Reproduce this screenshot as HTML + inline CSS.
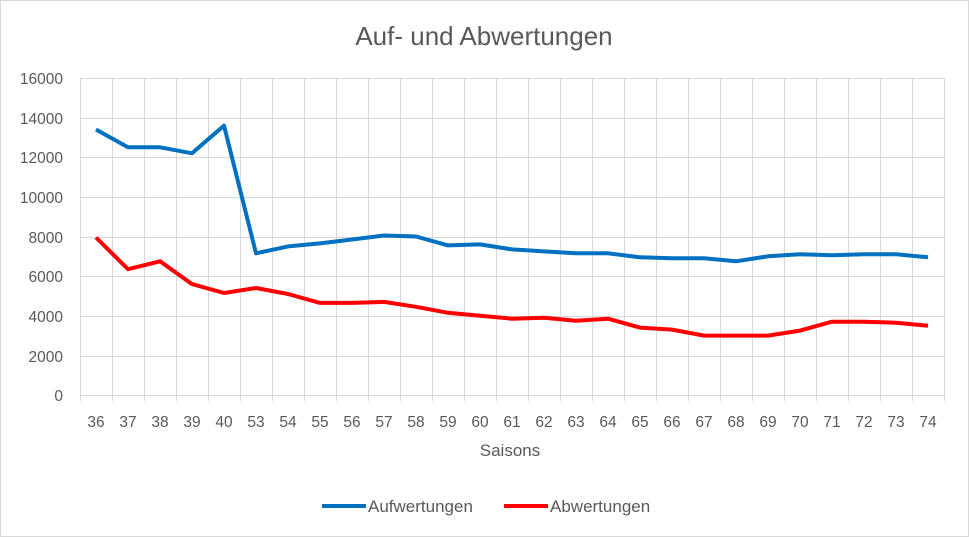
<!DOCTYPE html>
<html><head><meta charset="utf-8"><style>
body{margin:0;background:#fff;}
svg{display:block;font-family:"Liberation Sans",sans-serif;}
</style></head><body>
<svg width="969" height="537" viewBox="0 0 969 537" xmlns="http://www.w3.org/2000/svg">
<rect x="0.5" y="0.5" width="968" height="536" fill="#fff" stroke="#d9d9d9"/>
<text x="484" y="45" font-size="26" fill="#595959" text-anchor="middle">Auf- und Abwertungen</text>
<g stroke="#d9d9d9" stroke-width="1" id="grid">
<line x1="80" y1="78.5" x2="944" y2="78.5"/>
<line x1="80" y1="118.5" x2="944" y2="118.5"/>
<line x1="80" y1="157.5" x2="944" y2="157.5"/>
<line x1="80" y1="197.5" x2="944" y2="197.5"/>
<line x1="80" y1="237.5" x2="944" y2="237.5"/>
<line x1="80" y1="276.5" x2="944" y2="276.5"/>
<line x1="80" y1="316.5" x2="944" y2="316.5"/>
<line x1="80" y1="356.5" x2="944" y2="356.5"/>
<line x1="80" y1="395.5" x2="944" y2="395.5"/>
</g>
<g font-size="15.5" fill="#595959" text-anchor="end">
<text x="63" y="84">16000</text><text x="63" y="124">14000</text><text x="63" y="163">12000</text>
<text x="63" y="203">10000</text><text x="63" y="243">8000</text><text x="63" y="282">6000</text>
<text x="63" y="322">4000</text><text x="63" y="362">2000</text><text x="63" y="401">0</text>
</g>
<g font-size="15.5" fill="#595959" text-anchor="middle">
<text x="96" y="427">36</text><text x="128" y="427">37</text><text x="160" y="427">38</text><text x="192" y="427">39</text><text x="224" y="427">40</text><text x="256" y="427">53</text><text x="288" y="427">54</text><text x="320" y="427">55</text><text x="352" y="427">56</text><text x="384" y="427">57</text><text x="416" y="427">58</text><text x="448" y="427">59</text><text x="480" y="427">60</text><text x="512" y="427">61</text><text x="544" y="427">62</text><text x="576" y="427">63</text><text x="608" y="427">64</text><text x="640" y="427">65</text><text x="672" y="427">66</text><text x="704" y="427">67</text><text x="736" y="427">68</text><text x="768" y="427">69</text><text x="800" y="427">70</text><text x="832" y="427">71</text><text x="864" y="427">72</text><text x="896" y="427">73</text><text x="928" y="427">74</text>
<text x="510" y="456" font-size="17">Saisons</text>
</g>
<polyline id="b" fill="none" stroke="#0070c0" stroke-width="4" stroke-linejoin="round" points=""/>
<polyline id="r" fill="none" stroke="#ff0000" stroke-width="4" stroke-linejoin="round" points=""/>
<line x1="322" y1="506" x2="366" y2="506" stroke="#0070c0" stroke-width="4"/>
<text x="368" y="512" font-size="17" fill="#595959">Aufwertungen</text>
<line x1="504" y1="506" x2="548" y2="506" stroke="#ff0000" stroke-width="4"/>
<text x="550" y="512" font-size="17" fill="#595959">Abwertungen</text>
</svg>
<script>
var B=[13400,12500,12500,12200,13600,7150,7500,7650,7850,8050,8000,7550,7600,7350,7250,7150,7150,6950,6900,6900,6750,7000,7100,7050,7100,7100,6950];
var R=[7950,6350,6750,5600,5150,5400,5100,4650,4650,4700,4450,4150,4000,3850,3900,3750,3850,3400,3300,3000,3000,3000,3250,3700,3700,3650,3500];
function p(a){return a.map(function(v,i){return (96+32*i)+","+(395-v*317/16000).toFixed(1)}).join(" ")}
document.getElementById("b").setAttribute("points",p(B));
document.getElementById("r").setAttribute("points",p(R));
var g=document.getElementById("grid");
for(var i=0;i<=27;i++){var l=document.createElementNS("http://www.w3.org/2000/svg","line");var x=80.5+32*i;l.setAttribute("x1",x);l.setAttribute("x2",x);l.setAttribute("y1",78);l.setAttribute("y2",401);g.appendChild(l);}
</script>
</body></html>
